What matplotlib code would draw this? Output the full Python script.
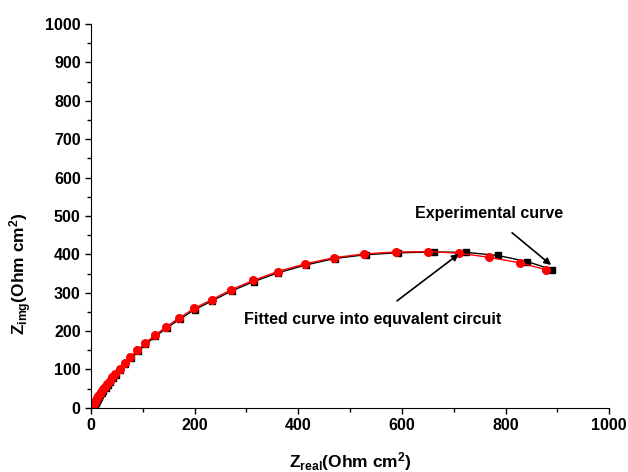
import numpy as np
import matplotlib
matplotlib.use("Agg")
import matplotlib.pyplot as plt

plt.rcParams['font.family'] = ['Liberation Sans', 'DejaVu Sans']
plt.rcParams['font.weight'] = 'bold'
plt.rcParams['mathtext.fontset'] = 'custom'
plt.rcParams['mathtext.rm'] = 'Liberation Sans:bold'
plt.rcParams['mathtext.it'] = 'Liberation Sans:bold'
plt.rcParams['mathtext.bf'] = 'Liberation Sans:bold'

# fitted curve (red circles)
fit_re = [2, 3, 4, 5, 6, 8, 10, 12, 14, 17, 20, 23, 27, 31, 36, 41, 47, 55, 65, 76,
          89, 104, 123, 145, 170, 199, 233, 271, 313, 360, 413, 468, 527, 588, 651,
          710, 769, 827, 878]
fit_im = [2, 4, 6, 9, 12, 16, 20, 25, 30, 36, 42, 48, 55, 63, 71, 80, 89, 101, 116, 132,
          150, 168, 189, 211, 234, 259, 282, 308, 332, 355, 375, 391, 401, 406, 407,
          403, 392, 378, 360]

# experimental curve (black squares)
exp_re = [3, 4, 5, 6, 7, 9, 11, 13, 15, 18, 21, 24, 28, 32, 37, 42, 48, 56, 66, 77,
          90, 105, 124, 146, 171, 200, 234, 272, 314, 361, 414, 470, 530, 592, 662,
          724, 785, 842, 890]
exp_im = [0, 2, 4, 6, 9, 13, 17, 22, 27, 33, 39, 45, 52, 60, 68, 77, 86, 98, 113, 129,
          147, 165, 186, 208, 231, 256, 279, 305, 329, 352, 372, 389, 399, 404, 406,
          405, 397, 381, 360]

fig = plt.figure(figsize=(6.28, 4.72), dpi=100)
ax = fig.add_axes([0.145, 0.136, 0.825, 0.813])

ax.plot(exp_re, exp_im, color='black', marker='s', markersize=4, lw=1)
ax.plot(fit_re, fit_im, color='red', marker='o', markersize=5.5, lw=1)

ax.set_xlim(0, 1000)
ax.set_ylim(0, 1000)
ax.set_xticks(np.arange(0, 1001, 200))
ax.set_yticks(np.arange(0, 1001, 100))
ax.set_xticks(np.arange(100, 1000, 200), minor=True)
ax.set_yticks(np.arange(50, 1000, 100), minor=True)
ax.tick_params(which='major', direction='out', length=4, width=1, labelsize=11.5)
ax.tick_params(which='minor', direction='out', length=3, width=1)
ax.spines['top'].set_visible(False)
ax.spines['right'].set_visible(False)
for lab in ax.get_xticklabels() + ax.get_yticklabels():
    lab.set_fontweight('bold')

ax.set_xlabel(r'Z$_{\mathrm{real}}$(Ohm cm$^{2}$)', fontsize=12.5, fontweight='bold')
ax.set_ylabel(r'Z$_{\mathrm{img}}$(Ohm cm$^{2}$)', fontsize=12.5, fontweight='bold')
ax.xaxis.set_label_coords(0.5, -0.11)
ax.yaxis.set_label_coords(-0.11, 0.35)

ax.annotate('Experimental curve', xy=(888, 372), xytext=(768, 506),
            ha='center', va='center', fontsize=11.5, fontweight='bold',
            arrowprops=dict(arrowstyle='-|>', color='black', lw=1.2,
                            shrinkA=10, shrinkB=0, mutation_scale=10))
ax.annotate('Fitted curve into equvalent circuit', xy=(710, 401), xytext=(543, 230),
            ha='center', va='center', fontsize=11.5, fontweight='bold',
            arrowprops=dict(arrowstyle='-|>', color='black', lw=1.2,
                            shrinkA=10, shrinkB=0, mutation_scale=10))

fig.savefig('out.png', dpi=100)
